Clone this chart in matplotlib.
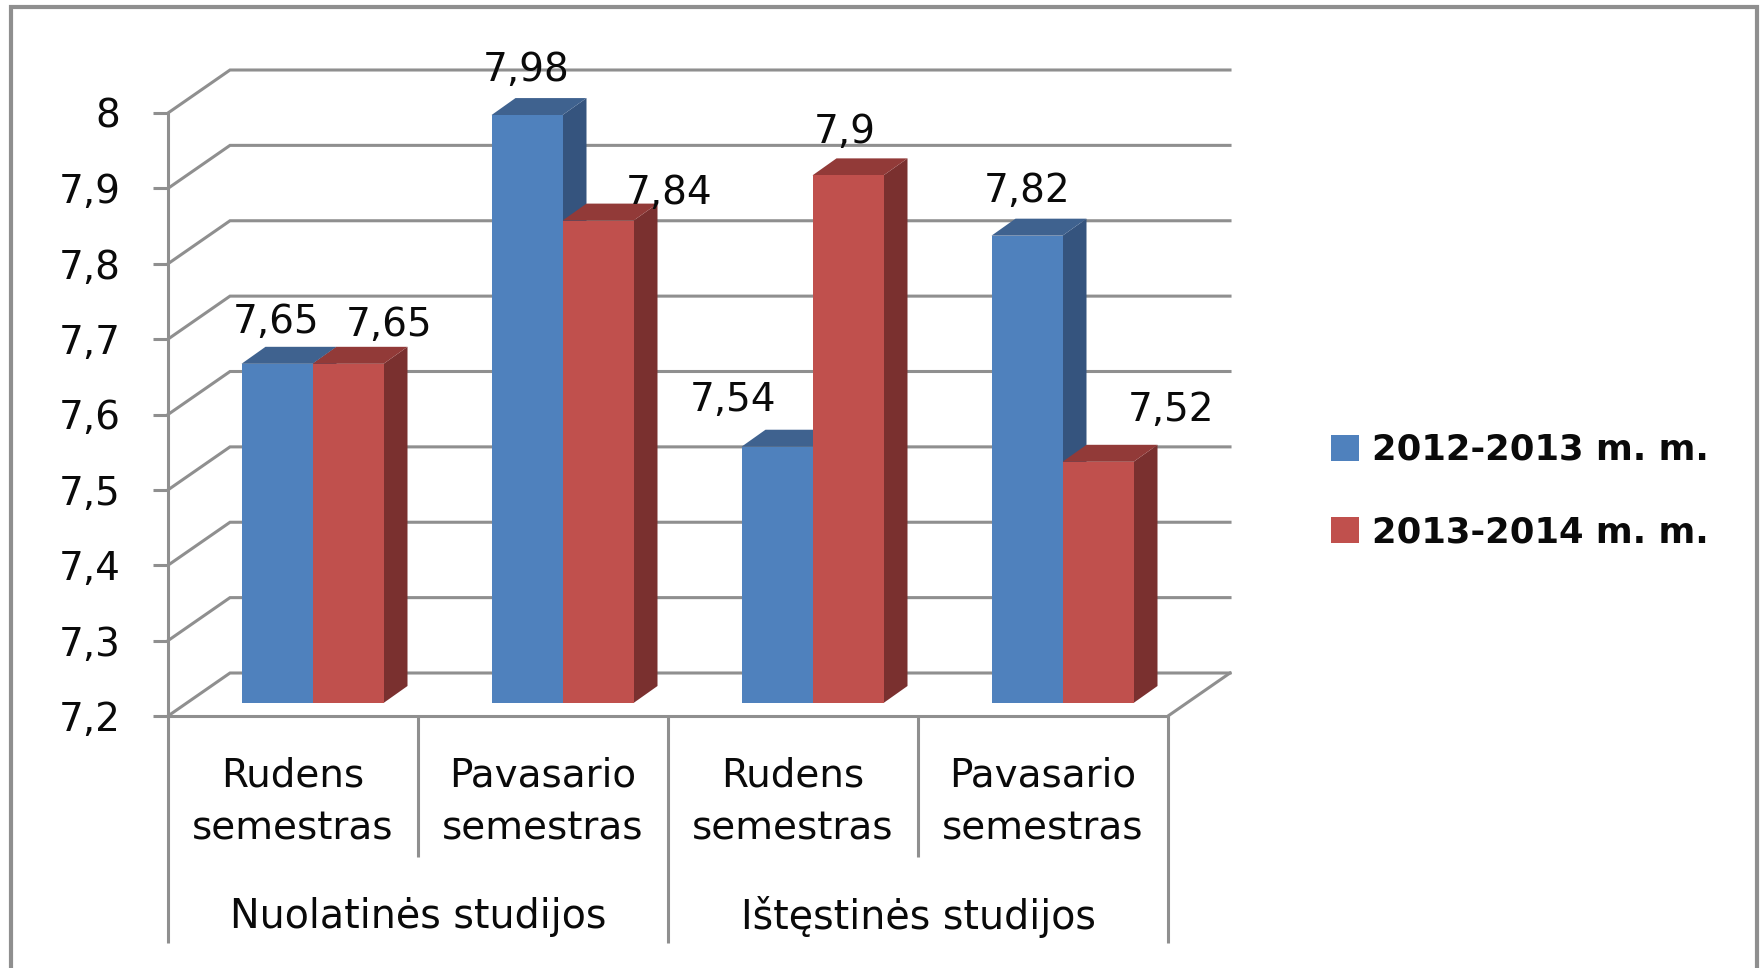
import matplotlib
matplotlib.use("Agg")
import matplotlib.pyplot as plt
from matplotlib.patches import Polygon, Patch
from matplotlib.lines import Line2D

# ---- data ----
groups = ["Nuolatinės studijos", "Ištęstinės studijos"]
semesters = ["Rudens\nsemestras", "Pavasario\nsemestras", "Rudens\nsemestras", "Pavasario\nsemestras"]
series_names = ["2012-2013 m. m.", "2013-2014 m. m."]
values_2012 = [7.65, 7.98, 7.54, 7.82]
values_2013 = [7.65, 7.84, 7.90, 7.52]
y_ticks = [7.2, 7.3, 7.4, 7.5, 7.6, 7.7, 7.8, 7.9, 8.0]
y_tick_labels = ["7,2", "7,3", "7,4", "7,5", "7,6", "7,7", "7,8", "7,9", "8"]
labels_2012 = ["7,65", "7,98", "7,54", "7,82"]
labels_2013 = ["7,65", "7,84", "7,9", "7,52"]

# ---- styles / layout (pixels of a 1760x968 canvas) ----
W, H = 1760, 968
DPI = 100
GRAY = "#8f8f8f"
LW = 2.2
FONT = "DejaVu Sans"
BLUE, BLUE_SIDE, BLUE_TOP = "#4f81bd", "#35547e", "#3f628f"
RED, RED_SIDE, RED_TOP = "#c0504d", "#7a302f", "#923a38"
AX_L, AX_R, AX_TOP, AX_BOT = 168, 1168, 113, 716
PX_PER_CAT = (AX_R - AX_L) / 4
PX_PER_VAL = (AX_BOT - AX_TOP) / 0.8
WALL_DX, WALL_DY = 62, 43
BAR_X0, BAR_W, BAR_LIFT = 73.5, 71, 13
DEPTH_DX, DEPTH_DY = 24, 17
# label offsets from the bar's front-top centre, in pixels
off_2012 = [(-1, 55), (-1, 58), (-44, 60), (0, 58)]
off_2013 = [(41, 52), (71, 41), (-3, 56), (73, 65)]

plt.rcParams["font.family"] = [FONT]
fig = plt.figure(figsize=(W / DPI, H / DPI), dpi=DPI)
ax = fig.add_axes([AX_L / W, 1 - AX_BOT / H, (AX_R - AX_L) / W, (AX_BOT - AX_TOP) / H])
ax.set_xlim(0, 4)
ax.set_ylim(7.2, 8.0)
ax.patch.set_visible(False)


def dx(px):
    return px / PX_PER_CAT


def dy(px):
    return px / PX_PER_VAL


# outer frame (open at the bottom)
fig.add_artist(Line2D([11 / W, 11 / W, 1757 / W, 1757 / W], [0, 1 - 7 / H, 1 - 7 / H, 0],
                      color=GRAY, lw=3.0, solid_joinstyle="miter"))

# walls / gridlines
for t in y_ticks:
    ax.plot([0, dx(WALL_DX), 4 + dx(WALL_DX)], [t, t + dy(WALL_DY), t + dy(WALL_DY)],
            color=GRAY, lw=LW, clip_on=False, zorder=1, solid_joinstyle="miter")
ax.plot([4, 4 + dx(WALL_DX)], [7.2, 7.2 + dy(WALL_DY)], color=GRAY, lw=LW, clip_on=False, zorder=1)

# axes
for s in ("top", "right"):
    ax.spines[s].set_visible(False)
for s in ("left", "bottom"):
    ax.spines[s].set_color(GRAY)
    ax.spines[s].set_linewidth(LW)
    ax.spines[s].set_zorder(1.5)
ax.set_yticks(y_ticks)
ax.set_yticklabels(y_tick_labels, fontsize=28, color="#0a0a0a")
ax.tick_params(axis="y", length=10.8, width=LW, color=GRAY, pad=23.5)
ax.set_xticks([0.5, 1.5, 2.5, 3.5])
ax.set_xticklabels(semesters, fontsize=28, color="#0a0a0a", linespacing=1.49)
ax.tick_params(axis="x", length=0, pad=29.5)

# category dividers
short_end = 7.2 - dy(857 - AX_BOT)
long_end = 7.2 - dy(943 - AX_BOT)
for x, end in zip([0, 1, 2, 3, 4], [long_end, short_end, long_end, short_end, long_end]):
    ax.plot([x, x], [7.2, end], color=GRAY, lw=LW, clip_on=False, zorder=1, solid_capstyle="butt")

# group labels
for x, g in zip([1, 3], groups):
    ax.text(x, 7.2 - dy(917 - AX_BOT), g, ha="center", va="center", fontsize=28.5,
            color="#0a0a0a", clip_on=False)


# 3-D looking bars
def bar3d(left, value, front, side, top):
    lift = dy(BAR_LIFT)
    right = left + dx(BAR_W)
    ax.bar(left, value - 7.2, width=dx(BAR_W), bottom=7.2 + lift, align="edge",
           color=front, zorder=3, clip_on=False)
    ddx, ddy = dx(DEPTH_DX), dy(DEPTH_DY)
    ax.add_patch(Polygon([(right, 7.2 + lift), (right + ddx, 7.2 + lift + ddy),
                          (right + ddx, value + lift + ddy), (right, value + lift)],
                         closed=True, color=side, lw=0, zorder=2.5, clip_on=False))
    ax.add_patch(Polygon([(left, value + lift), (left + ddx, value + lift + ddy),
                          (right + ddx, value + lift + ddy), (right, value + lift)],
                         closed=True, color=top, lw=0, zorder=2.6, clip_on=False))


for i in range(4):
    x0 = i + dx(BAR_X0)
    x1 = x0 + dx(BAR_W)
    bar3d(x0, values_2012[i], BLUE, BLUE_SIDE, BLUE_TOP)
    bar3d(x1, values_2013[i], RED, RED_SIDE, RED_TOP)
    for x, v, txt, off in ((x0, values_2012[i], labels_2012[i], off_2012[i]),
                           (x1, values_2013[i], labels_2013[i], off_2013[i])):
        ax.annotate(txt, xy=(x + dx(BAR_W / 2), v), xytext=(off[0] * 72 / DPI, off[1] * 72 / DPI),
                    textcoords="offset points", ha="center", va="center", fontsize=28,
                    color="#0a0a0a", zorder=5, annotation_clip=False)

# legend
handles = [Patch(facecolor=BLUE, edgecolor="none"), Patch(facecolor=RED, edgecolor="none")]
fig.legend(handles, series_names, loc="center left", bbox_to_anchor=(1331 / W, 1 - 491 / H),
           frameon=False, prop={"family": [FONT], "weight": "bold", "size": 25.5},
           handlelength=0.8, handleheight=0.75, handletextpad=0.37, labelspacing=1.36, borderpad=0, borderaxespad=0,
           labelcolor="#0a0a0a")

fig.savefig("out.png", dpi=DPI, facecolor="white")
